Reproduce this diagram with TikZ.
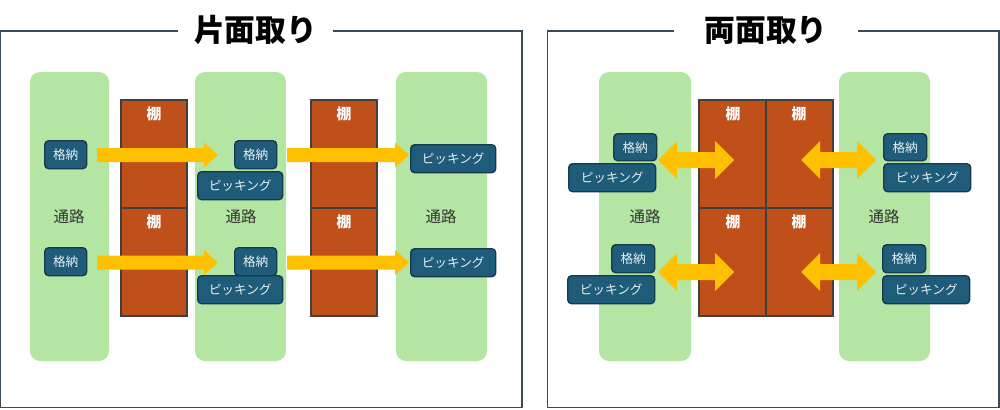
\documentclass[tikz,border=0pt]{standalone}
\usepackage{fontspec}
\newfontfamily\jp{Noto Sans CJK JP}
\definecolor{aisle}{HTML}{B4E5A2}
\definecolor{shelf}{HTML}{C0501A}
\definecolor{boxc}{HTML}{1E5C7A}
\definecolor{boxline}{HTML}{163A4C}
\definecolor{arrowc}{HTML}{FFC000}
\definecolor{framec}{HTML}{3B4A54}
\definecolor{boxtext}{HTML}{E6EEF2}
\tikzset{
  aislebox/.style={fill=aisle, rounded corners=0.2cm},
  shelfbox/.style={fill=shelf, draw=black!75, line width=0.6pt},
  tag/.style={fill=boxc, draw=boxline, line width=0.8pt, rounded corners=0.08cm, font=\jp\fontsize{7.2}{8}\selectfont, text=boxtext, inner sep=0pt},
  shelflabel/.style={font=\jp\bfseries\fontsize{8.5}{10}\selectfont, text=white},
  aislelabel/.style={font=\jp\fontsize{8.8}{10}\selectfont, text=black!80},
  titlelabel/.style={font=\jp\bfseries\fontsize{17.5}{21}\selectfont, text=black},
  framestyle/.style={draw=framec, line width=0.9pt},
}
\newcommand{\tagbox}[6]{% name, x1, y1, x2, y2, text
  \node[tag, minimum width=#4*0.02cm-#2*0.02cm, minimum height=#5*0.02cm-#3*0.02cm, anchor=north west] (#1) at (#2,#3) {#6};}
\newcommand{\sarrow}[4]{% x1, xh, x2, yc
  \fill[arrowc] (#1,#4-7) -- (#2,#4-7) -- (#2,#4-12.5) -- (#3,#4) -- (#2,#4+12.5) -- (#2,#4+7) -- (#1,#4+7) -- cycle;}
\newcommand{\darrow}[3]{% x1, x2, yc
  \fill[arrowc] (#1,#3) -- (#1+19,#3-19) -- (#1+19,#3-8) -- (#2-19,#3-8) -- (#2-19,#3-19) -- (#2,#3) -- (#2-19,#3+19) -- (#2-19,#3+8) -- (#1+19,#3+8) -- (#1+19,#3+19) -- cycle;}
\begin{document}
\begin{tikzpicture}[x=0.02cm, y=-0.02cm]
\useasboundingbox (0,0) rectangle (1000,409);
% ---------- left panel ----------
\node[titlelabel] (t1) at (255.5,30) {片面取り};
\draw[framestyle] (178,31) -- (0.5,31) -- (0.5,407.5) -- (522,407.5) -- (522,31) -- (333,31);
\fill[aislebox] (30,72) rectangle (109,361);
\fill[aislebox] (195,72) rectangle (286,361);
\fill[aislebox] (396,72) rectangle (487,361);
\node[aislelabel] (p1) at (69,217) {通路};
\node[aislelabel] (p2) at (241,217) {通路};
\node[aislelabel] (p3) at (441,217) {通路};
\draw[shelfbox] (121,100) rectangle (187,208);
\draw[shelfbox] (121,208) rectangle (187,316);
\draw[shelfbox] (311,100) rectangle (377,208);
\draw[shelfbox] (311,208) rectangle (377,316);
\node[shelflabel] (s1) at (154,114) {棚};
\node[shelflabel] (s2) at (154,222) {棚};
\node[shelflabel] (s3) at (344,114) {棚};
\node[shelflabel] (s4) at (344,222) {棚};
\sarrow{97}{204}{218}{155}
\sarrow{287}{395}{409}{155}
\sarrow{97}{204}{218}{262.5}
\sarrow{287}{395}{409}{262.5}
\tagbox{a1}{44}{140}{86}{168}{格納}
\tagbox{a2}{44}{247}{86}{275}{格納}
\tagbox{b1}{234}{140}{276}{168}{格納}
\tagbox{b2}{234}{247}{276}{275}{格納}
\tagbox{c1}{197}{171}{282}{199}{ピッキング}
\tagbox{c2}{197}{275}{282}{303}{ピッキング}
\tagbox{d1}{410}{144}{495}{172}{ピッキング}
\tagbox{d2}{410}{248}{495}{276}{ピッキング}
% ---------- right panel ----------
\node[titlelabel] (t2) at (766,30) {両面取り};
\draw[framestyle] (674,31) -- (547.5,31) -- (547.5,407.5) -- (999,407.5) -- (999,31) -- (858,31);
\fill[aislebox] (599,72) rectangle (691,361);
\fill[aislebox] (839,72) rectangle (930,361);
\node[aislelabel] (p4) at (645,217) {通路};
\node[aislelabel] (p5) at (884,217) {通路};
\draw[shelfbox] (699,100) rectangle (766,208);
\draw[shelfbox] (766,100) rectangle (833,208);
\draw[shelfbox] (699,208) rectangle (766,316);
\draw[shelfbox] (766,208) rectangle (833,316);
\node[shelflabel] (s5) at (733,114) {棚};
\node[shelflabel] (s6) at (799,114) {棚};
\node[shelflabel] (s7) at (733,222) {棚};
\node[shelflabel] (s8) at (799,222) {棚};
\darrow{658}{734}{160}
\darrow{658}{734}{272}
\darrow{801}{876}{160}
\darrow{801}{876}{272}
\tagbox{e1}{613}{133}{656}{160}{格納}
\tagbox{f1}{568}{163}{655}{191}{ピッキング}
\tagbox{e2}{611}{244}{654}{272}{格納}
\tagbox{f2}{567}{275}{654}{303}{ピッキング}
\tagbox{g1}{883}{133}{926}{160}{格納}
\tagbox{h1}{883}{163}{970}{191}{ピッキング}
\tagbox{g2}{882}{244}{925}{272}{格納}
\tagbox{h2}{882}{275}{969}{303}{ピッキング}
\end{tikzpicture}
\end{document}
